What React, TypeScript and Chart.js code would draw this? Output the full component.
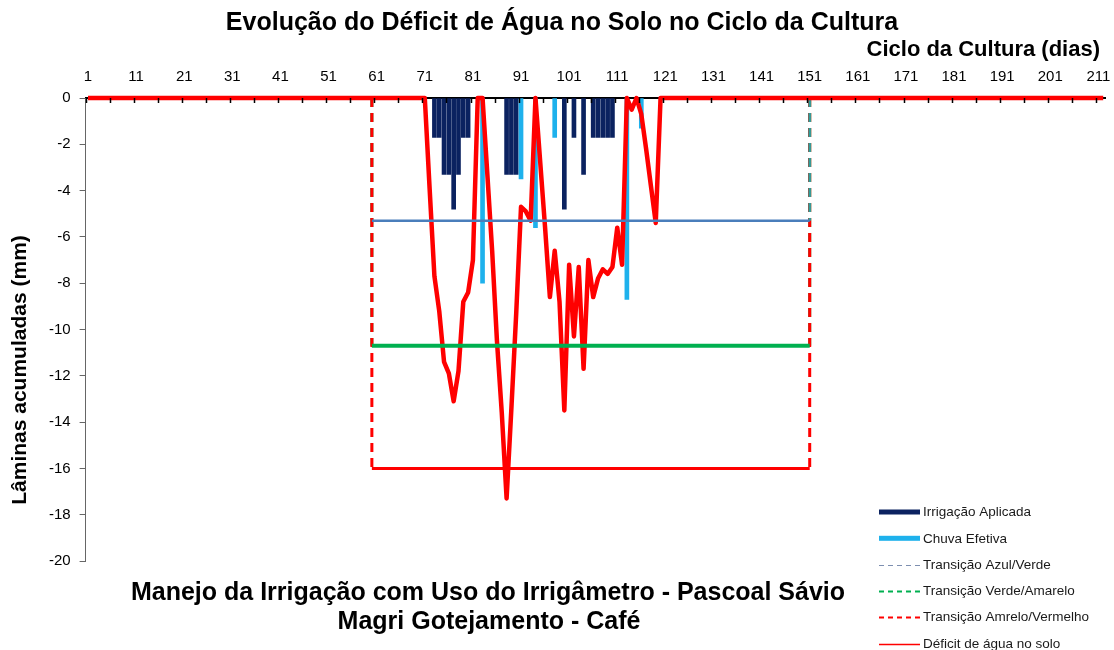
import React, { useEffect, useRef } from 'react';
import { Chart, registerables } from 'chart.js';

Chart.register(...registerables);

const FONT = '"Liberation Sans", Arial, Helvetica, sans-serif';

// Category (day) tick labels on the top axis
const dayTickLabels = [1, 11, 21, 31, 41, 51, 61, 71, 81, 91, 101, 111, 121, 131, 141, 151, 161, 171, 181, 191, 201, 211];

// Irrigação Aplicada (mm, negative = accumulated depth)
const irrigationDays = [73, 74, 75, 76, 77, 78, 79, 80, 88, 89, 90, 100, 102, 104, 106, 107, 108, 109, 110];
const irrigationValues = [-1.7, -1.7, -3.3, -3.3, -4.8, -3.3, -1.7, -1.7, -3.3, -3.3, -3.3, -4.8, -1.7, -3.3, -1.7, -1.7, -1.7, -1.7, -1.7];

// Chuva Efetiva
const rainDays = [83, 91, 94, 98, 113, 116];
const rainValues = [-8.0, -3.5, -5.6, -1.7, -8.7, -1.3];

// Déficit de água no solo
const deficitDays = [
  1, 71, 72, 73, 74, 75, 76, 77, 78, 79, 80, 81, 82, 83, 84, 85, 86, 87, 88, 89, 90,
  91, 92, 93, 94, 95, 96, 97, 98, 99, 100, 101, 102, 103, 104, 105, 106, 107, 108, 109, 110,
  111, 112, 113, 114, 115, 116, 117, 118, 119, 120, 212,
];
const deficitValues = [
  0, 0, -3.9, -7.7, -9.2, -11.4, -11.9, -13.1, -11.8, -8.8, -8.4, -7.0, 0, 0, -3.3, -6.6, -10.5, -13.6, -17.3, -13.4, -9.3,
  -4.7, -4.9, -5.3, 0, -2.8, -5.6, -8.6, -6.6, -8.8, -13.5, -7.2, -10.3, -7.3, -11.7, -7.0, -8.6, -7.8, -7.4, -7.6, -7.3,
  -5.6, -7.2, 0, -0.5, 0, -0.7, -2.2, -3.8, -5.4, 0, 0,
];

// Transition limits (start / end day of the monitored period and levels)
const transitionStartDay = 60;
const transitionEndDay = 151;
const levelAzulVerde = -5.3;
const levelVerdeAmarelo = -10.7;
const levelAmareloVermelho = -16.0;

const NAVY = '#0B2260';
const LIGHT_BLUE = '#1EB1EC';
const BLUE_LINE = '#4A7EBB';
const GREEN = '#00B050';
const RED = '#FF0000';
const DASH = [9, 6];

const toXY = (xs: number[], ys: number[]) => xs.map((x, i) => ({ x, y: ys[i] }));

const legendItems = [
  { label: 'Irrigação Aplicada', kind: 'box', color: NAVY, width: 5, dash: [] as number[] },
  { label: 'Chuva Efetiva', kind: 'box', color: LIGHT_BLUE, width: 5, dash: [] as number[] },
  { label: 'Transição Azul/Verde', kind: 'line', color: '#7D8FB0', width: 1, dash: [5, 4] },
  { label: 'Transição Verde/Amarelo', kind: 'line', color: GREEN, width: 2, dash: [5, 4] },
  { label: 'Transição Amrelo/Vermelho', kind: 'line', color: RED, width: 2, dash: [5, 4] },
  { label: 'Déficit de água no solo', kind: 'line', color: RED, width: 1.5, dash: [] as number[] },
];

const decorPlugin = {
  id: 'decor',
  afterDatasetsDraw(chart: any) {
    const { ctx, chartArea, scales } = chart;
    const xs = scales.x;
    ctx.save();
    // inward tick marks on the top category axis (every 5 days, at boundaries)
    ctx.strokeStyle = '#000';
    ctx.lineWidth = 1.5;
    for (let d = 0.5; d <= 212.5; d += 5) {
      const px = Math.round(xs.getPixelForValue(d)) + 0.5;
      ctx.beginPath();
      ctx.moveTo(px, chartArea.top);
      ctx.lineTo(px, chartArea.top + 5);
      ctx.stroke();
    }
    ctx.restore();
  },
  afterDraw(chart: any) {
    const { ctx } = chart;
    ctx.save();
    ctx.fillStyle = '#000';
    ctx.textBaseline = 'middle';
    ctx.textAlign = 'center';
    // main title
    ctx.font = `bold 25px ${FONT}`;
    ctx.fillText('Evolução do Déficit de Água no Solo no Ciclo da Cultura', 562, 23.5);
    // x axis title (top right)
    ctx.textAlign = 'right';
    ctx.font = `bold 22px ${FONT}`;
    ctx.fillText('Ciclo da Cultura (dias)', 1100, 50);
    // bottom caption
    ctx.textAlign = 'center';
    ctx.font = `bold 25px ${FONT}`;
    ctx.fillText('Manejo da Irrigação com Uso do Irrigâmetro - Pascoal Sávio', 488, 593.5);
    ctx.fillText('Magri Gotejamento - Café', 489, 622.5);
    // y axis title
    ctx.save();
    ctx.translate(20, 370);
    ctx.rotate(-Math.PI / 2);
    ctx.font = `bold 21px ${FONT}`;
    ctx.fillText('Lâminas acumuladas (mm)', 0, 0);
    ctx.restore();
    // legend
    const x0 = 879;
    const x1 = 920;
    const startY = 512;
    const step = 26.3;
    ctx.textAlign = 'left';
    ctx.font = `13.5px ${FONT}`;
    legendItems.forEach((it, i) => {
      const y = startY + i * step;
      if (it.kind === 'box') {
        ctx.fillStyle = it.color;
        ctx.fillRect(x0, y - it.width / 2, x1 - x0, it.width);
      } else {
        ctx.strokeStyle = it.color;
        ctx.lineWidth = it.width;
        ctx.setLineDash(it.dash);
        ctx.beginPath();
        ctx.moveTo(x0, Math.round(y) + 0.5);
        ctx.lineTo(x1, Math.round(y) + 0.5);
        ctx.stroke();
        ctx.setLineDash([]);
      }
      ctx.fillStyle = '#1a1a1a';
      ctx.fillText(it.label, 923, y + 0.5);
    });
    ctx.restore();
  },
};

const lineDs = (label: string, data: any[], color: string, width: number, order: number, dash: number[] = []) => ({
  type: 'line',
  label,
  data,
  borderColor: color,
  borderWidth: width,
  borderDash: dash,
  pointRadius: 0,
  tension: 0,
  clip: false,
  order,
});

export default function App() {
  const ref = useRef<HTMLCanvasElement>(null);

  useEffect(() => {
    const canvas = ref.current;
    if (!canvas) return;
    const S = transitionStartDay;
    const E = transitionEndDay;
    const chart = new Chart(canvas, {
      type: 'bar',
      data: {
        datasets: [
          // horizontal limits (solid)
          lineDs('Transição Amrelo/Vermelho', [{ x: S, y: levelAmareloVermelho }, { x: E, y: levelAmareloVermelho }], RED, 3, 1),
          lineDs('Transição Verde/Amarelo', [{ x: S, y: levelVerdeAmarelo }, { x: E, y: levelVerdeAmarelo }], GREEN, 4, 2),
          lineDs('Transição Azul/Verde', [{ x: S, y: levelAzulVerde }, { x: E, y: levelAzulVerde }], BLUE_LINE, 2.5, 3),
          // vertical transitions (dashed) at the start of the period
          lineDs('Transição Amrelo/Vermelho', [{ x: S, y: 0 }, { x: S, y: levelAmareloVermelho }], RED, 3, 6, DASH),
          lineDs('Transição Verde/Amarelo', [{ x: S, y: 0 }, { x: S, y: levelVerdeAmarelo }], GREEN, 3, 7, DASH),
          lineDs('Transição Azul/Verde', [{ x: S, y: 0 }, { x: S, y: levelAzulVerde }], BLUE_LINE, 2, 8, DASH),
          // vertical transitions (dashed) at the end of the period
          lineDs('Transição Azul/Verde', [{ x: E, y: 0 }, { x: E, y: levelAzulVerde }], '#2E9E9A', 2.5, 6, DASH),
          lineDs('Transição Amrelo/Vermelho', [{ x: E, y: 0 }, { x: E, y: levelAmareloVermelho }], RED, 3, 7, DASH),
          lineDs('Transição Verde/Amarelo', [{ x: E, y: 0 }, { x: E, y: levelVerdeAmarelo }], GREEN, 3, 8, DASH),
          {
            ...lineDs('Déficit de água no solo', toXY(deficitDays, deficitValues), RED, 4.5, 5),
            borderJoinStyle: 'round',
          },
          {
            type: 'bar',
            label: 'Chuva Efetiva',
            data: toXY(rainDays, rainValues),
            backgroundColor: LIGHT_BLUE,
            barThickness: 4,
            stack: 'one',
            order: 9,
          },
          {
            type: 'bar',
            label: 'Irrigação Aplicada',
            data: toXY(irrigationDays, irrigationValues),
            backgroundColor: NAVY,
            barThickness: 4,
            stack: 'one',
            order: 10,
          },
        ] as any,
      },
      options: {
        responsive: false,
        devicePixelRatio: 1,
        animation: false,
        layout: { padding: { left: 0, top: 0, right: 8.4, bottom: 89 } },
        plugins: { legend: { display: false }, tooltip: { enabled: false } },
        scales: {
          x: {
            type: 'linear',
            position: 'top',
            min: 0.5,
            max: 212.5,
            offset: false,
            afterBuildTicks: (s: any) => {
              s.ticks = dayTickLabels.map((v) => ({ value: v }));
            },
            afterFit: (s: any) => {
              s.height = 98;
              s.paddingLeft = 0;
              s.paddingRight = 0;
            },
            ticks: {
              autoSkip: false,
              maxRotation: 0,
              padding: 12,
              color: '#000',
              font: { family: FONT, size: 15 },
              callback: (v: any) => String(v),
            },
            grid: { display: false, drawTicks: false },
            border: { display: true, color: '#000', width: 2 },
            title: { display: false },
          },
          y: {
            type: 'linear',
            min: -20,
            max: 0,
            afterFit: (s: any) => {
              s.width = 85.6;
              s.paddingTop = 0;
              s.paddingBottom = 0;
            },
            ticks: {
              stepSize: 2,
              padding: 9,
              color: '#000',
              font: { family: FONT, size: 15 },
            },
            grid: { display: true, drawOnChartArea: false, drawTicks: true, tickLength: 6, color: '#666', lineWidth: 1 },
            border: { display: true, color: '#666', width: 1 },
          },
        },
      } as any,
      plugins: [decorPlugin],
    });
    return () => chart.destroy();
  }, []);

  return (
    <div style={{ position: 'absolute', left: 0, top: 0, width: 1114, height: 650, background: '#fff' }}>
      <canvas ref={ref} width={1114} height={650} style={{ display: 'block', width: 1114, height: 650 }} />
    </div>
  );
}
